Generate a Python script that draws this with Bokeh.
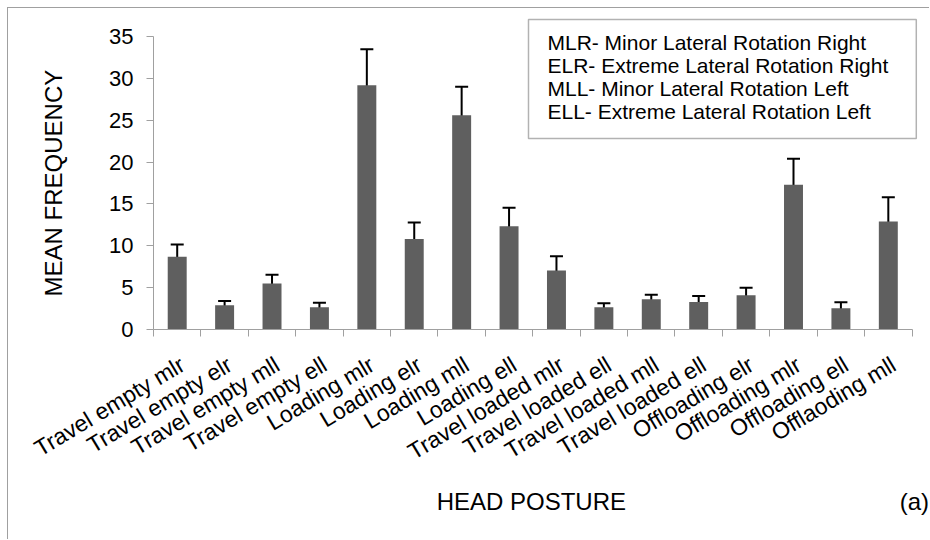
from bokeh.plotting import figure
from bokeh.models import (ColumnDataSource, FixedTicker, Whisker, TeeHead, Label, BoxAnnotation,
                          Range1d, LinearAxis)
from bokeh.embed import file_html
from bokeh.resources import INLINE

# head posture categories, mean frequency and error (half bar)
categories = ["Travel empty mlr", "Travel empty elr", "Travel empty mll", "Travel empty ell",
              "Loading mlr", "Loading elr", "Loading mll", "Loading ell",
              "Travel loaded mlr", "Travel loaded ell", "Travel loaded mll", "Travel loaded ell",
              "Offloading elr", "Offloading mlr", "Offloading ell", "Offlaoding mll"]
means = [8.7, 2.9, 5.5, 2.65, 29.2, 10.8, 25.6, 12.35, 7.05, 2.65, 3.6, 3.3, 4.1, 17.3, 2.55, 12.9]
errors = [1.45, 0.5, 1.05, 0.55, 4.3, 2.0, 3.4, 2.2, 1.7, 0.5, 0.55, 0.7, 0.9, 3.1, 0.7, 2.9]
y_ticks = [0, 5, 10, 15, 20, 25, 30, 35]
legend_lines = ["MLR- Minor Lateral Rotation Right",
                "ELR- Extreme Lateral Rotation  Right",
                "MLL- Minor Lateral Rotation Left",
                "ELL- Extreme Lateral Rotation Left"]

FONT = "Liberation Sans"
GREY = "#a0a0a0"

centers = [i + 0.5 for i in range(len(categories))]
source = ColumnDataSource(data=dict(
    x=centers,
    top=means,
    upper=[m + e for m, e in zip(means, errors)],
    lower=[m - e for m, e in zip(means, errors)],
))

p = figure(width=922, height=532, x_range=Range1d(0, 16.2), y_range=Range1d(0, 38),
           output_backend="svg", toolbar_location=None,
           min_border_left=145, min_border_right=9, min_border_top=3, min_border_bottom=211)
# thin grey chart-area border (left/top visible, like the cropped original)
p.styles = {"margin-left": "7px", "margin-top": "7px",
            "border-left": "1px solid " + GREY, "border-top": "1px solid " + GREY}
p.outline_line_color = None
p.grid.visible = False

p.vbar(x="x", top="top", width=0.4, source=source, fill_color="#5f5f5f", line_color=None)

whisk = Whisker(base="x", upper="upper", lower="lower", source=source,
                line_color="black", line_width=2,
                upper_head=TeeHead(size=13, line_color="black", line_width=2),
                lower_head=TeeHead(size=13, line_color="black", line_width=2))
p.add_layout(whisk)

# x axis: tick marks between categories; labels hang off the centres
# (label ticks nudged right a bit so the rotated text ends right under the bar)
nudge = 0.11
label_pos = [c + nudge for c in centers]
xa = p.xaxis[0]
xa.bounds = (0, len(categories))
xa.ticker = FixedTicker(ticks=label_pos, minor_ticks=list(range(len(categories) + 1)))
xa.major_label_overrides = {c: lab for c, lab in zip(label_pos, categories)}
xa.major_tick_out = 0
xa.major_tick_in = 0
xa.minor_tick_out = 7
xa.minor_tick_in = 0
xa.minor_tick_line_color = GREY
xa.axis_line_color = GREY
xa.major_label_orientation = 0.54
xa.major_label_standoff = 26
xa.major_label_text_font = FONT
xa.major_label_text_font_size = "23px"
xa.major_label_text_color = "black"

ya = p.yaxis[0]
ya.bounds = (0, 35)
ya.ticker = FixedTicker(ticks=y_ticks)
ya.minor_tick_line_color = None
ya.major_tick_out = 7
ya.major_tick_in = 0
ya.major_tick_line_color = GREY
ya.axis_line_color = GREY
ya.major_label_standoff = 13
ya.major_label_text_font = FONT
ya.major_label_text_font_size = "22px"
ya.major_label_text_color = "black"

# bare outer axes that only carry the titles (and the panel tag), so they sit
# centred on the 0-35 / 0-16 spans rather than on the whole plot frame
def title_axis(ticks, texts, standoff, orientation="horizontal"):
    return LinearAxis(ticker=FixedTicker(ticks=ticks),
                      major_label_overrides=dict(zip(ticks, texts)),
                      major_label_orientation=orientation,
                      axis_line_color=None, major_tick_line_color=None,
                      minor_tick_line_color=None, major_tick_out=0, minor_tick_out=0,
                      major_label_standoff=standoff, major_label_text_font=FONT,
                      major_label_text_font_size="24px", major_label_text_color="black")

p.add_layout(title_axis([7.97, 16.05], ["HEAD POSTURE", "(a)"], 9), "below")
p.add_layout(title_axis([17.5], ["MEAN FREQUENCY"], 39, "parallel"), "left")

# legend box with the abbreviations
p.add_layout(BoxAnnotation(left=7.91, right=16.09, top=37.04, bottom=22.82,
                           fill_color="white", fill_alpha=1.0,
                           line_color="black", line_width=1.5))
p.add_layout(Label(x=8.31, y=35.69, text="\n".join(legend_lines),
                   text_font=FONT, text_font_size="21px", text_color="black",
                   text_align="left", text_baseline="top", text_line_height=1.0))

open("out.html", "w").write(file_html(p, INLINE))
